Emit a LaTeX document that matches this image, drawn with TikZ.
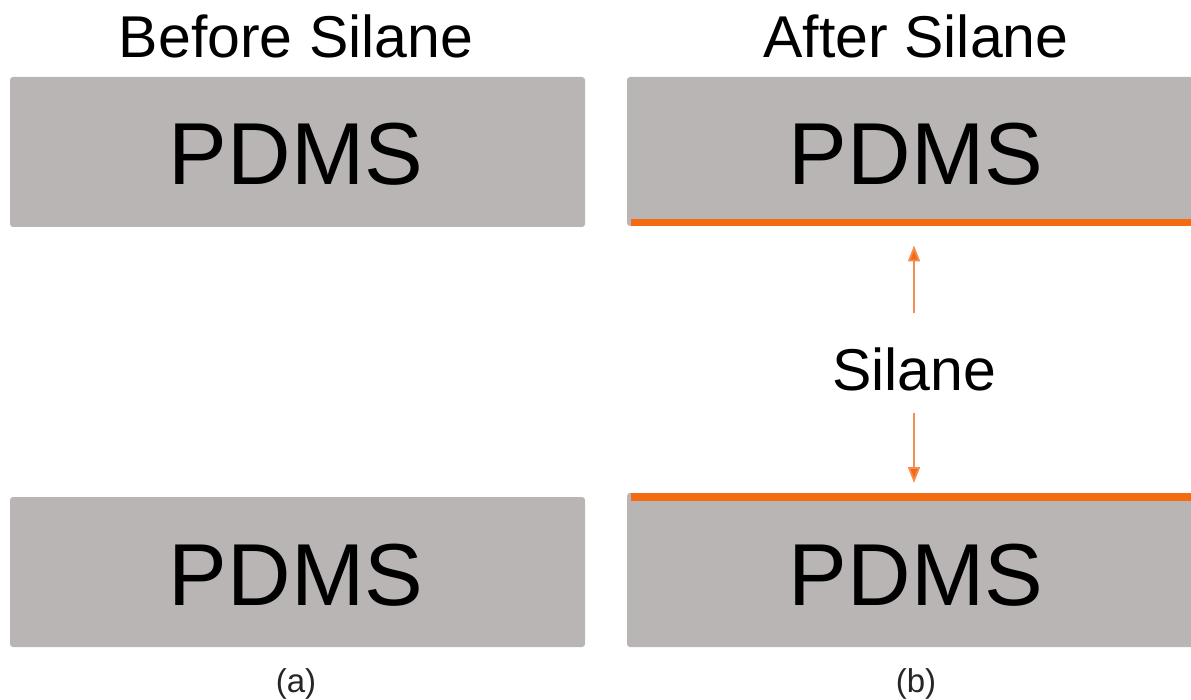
\documentclass[tikz,border=0pt]{standalone}
\usepackage{fontspec}
\setmainfont{Liberation Sans}
\usetikzlibrary{arrows.meta}

\definecolor{pdmsgray}{RGB}{185,181,181}
\definecolor{sealorange}{RGB}{243,106,16}
\definecolor{arroworange}{RGB}{246,140,80}

\tikzset{
  slab/.style={fill=pdmsgray, draw=none, rounded corners=3pt, inner sep=0pt,
    minimum height=150pt},
  seal/.style={fill=sealorange, draw=none, inner sep=0pt, minimum height=7.5pt},
  bigtext/.style={anchor=base, inner sep=0pt, font=\fontsize{88}{88}\selectfont},
  headtext/.style={anchor=base, inner sep=0pt, font=\fontsize{59}{59}\selectfont},
  captext/.style={anchor=base, inner sep=0pt, text=black!85, font=\fontsize{33}{33}\selectfont},
  flow/.style={draw=arroworange, line width=1.8pt,
    -{Triangle[length=16pt,width=12pt,fill=sealorange]}}
}

\begin{document}
\begin{tikzpicture}[x=1pt,y=-1pt]
  \useasboundingbox (0,0) rectangle (1191,700);
  \clip (0,0) rectangle (1191,700);

  % (a) untreated slabs
  \node[slab, minimum width=575pt] (aTop) at (297.5,152) {};
  \node[slab, minimum width=575pt] (aBot) at (297.5,572) {};
  \node[bigtext] (aTopTxt) at (296,185) {PDMS};
  \node[bigtext] (aBotTxt) at (296,605) {PDMS};
  \node[headtext] (aHead) at (296,58) {Before Silane};
  \node[captext] (aCap) at (296,692) {(a)};

  % (b) slabs after silane treatment
  \node[slab, minimum width=578pt, minimum height=149pt] (bTop) at (916,151.5) {};
  \node[slab, minimum width=578pt, minimum height=154pt] (bBot) at (916,570) {};
  \node[seal, minimum width=574pt] (bTopSeal) at (918,222.5) {};
  \node[seal, minimum width=574pt] (bBotSeal) at (918,497) {};
  \node[bigtext] (bTopTxt) at (916,185) {PDMS};
  \node[bigtext] (bBotTxt) at (916,605) {PDMS};
  \node[headtext] (bHead) at (916,58) {After Silane};
  \node[captext] (bCap) at (916,692) {(b)};

  % silane layer label with arrows to both coated surfaces
  \node[headtext] (silane) at (914,390) {Silane};
  \draw[flow, shorten <=34pt, shorten >=19pt] (silane.north) -- (silane.north |- bTopSeal.south);
  \draw[flow, shorten <=22pt, shorten >=10pt] (silane.south) -- (silane.south |- bBotSeal.north);
\end{tikzpicture}
\end{document}
